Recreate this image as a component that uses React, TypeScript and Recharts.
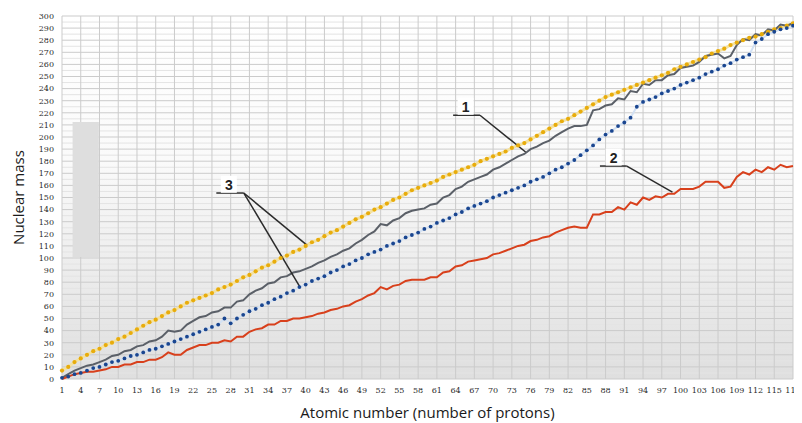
import React from 'react';
import {
  LineChart,
  Line,
  XAxis,
  YAxis,
  CartesianGrid,
  ReferenceArea,
  ReferenceLine,
  ReferenceDot,
} from 'recharts';

// 1 - atomic mass (gray line), Z = 1..118
const atomicMass = [
  1, 4, 7, 9, 11, 12, 14, 16, 19, 20,
  23, 24, 27, 28, 31, 32, 35, 40, 39, 40,
  45, 48, 51, 52, 55, 56, 59, 59, 64, 65,
  70, 73, 75, 79, 80, 84, 85, 88, 89, 91,
  93, 96, 98, 101, 103, 106, 108, 112, 115, 119,
  122, 128, 127, 131, 133, 137, 139, 140, 141, 144,
  145, 150, 152, 157, 159, 163, 165, 167, 169, 173,
  175, 178, 181, 184, 186, 190, 192, 195, 197, 201,
  204, 207, 209, 209, 210, 222, 223, 226, 227, 232,
  231, 238, 237, 244, 243, 247, 247, 251, 252, 257,
  258, 259, 262, 267, 268, 269, 265, 267, 276, 281,
  280, 285, 284, 289, 288, 293, 292, 294,
];

// 2 - number of neutrons (red line)
const neutrons = [
  0, 2, 4, 5, 6, 6, 7, 8, 10, 10,
  12, 12, 14, 14, 16, 16, 18, 22, 20, 20,
  24, 26, 28, 28, 30, 30, 32, 31, 35, 35,
  39, 41, 42, 45, 45, 48, 48, 50, 50, 51,
  52, 54, 55, 57, 58, 60, 61, 64, 66, 69,
  71, 76, 74, 77, 78, 81, 82, 82, 82, 84,
  84, 88, 89, 93, 94, 97, 98, 99, 100, 103,
  104, 106, 108, 110, 111, 114, 115, 117, 118, 121,
  123, 125, 126, 125, 125, 136, 136, 138, 138, 142,
  140, 146, 144, 150, 148, 151, 150, 153, 153, 157,
  157, 157, 159, 163, 163, 163, 158, 159, 167, 171,
  169, 173, 171, 175, 173, 177, 175, 176,
];

// 3 - upper estimate (yellow dots)
const upperBound = [
  7, 10, 14, 17, 20, 23, 25, 28, 30, 33,
  35, 38, 41, 44, 47, 49, 52, 55, 57, 60,
  63, 65, 67, 69, 71, 74, 76, 78, 81, 84,
  86, 89, 92, 94, 97, 100, 102, 105, 107, 110,
  113, 115, 118, 121, 123, 126, 129, 132, 134, 137,
  140, 142, 145, 148, 150, 153, 156, 158, 160, 162,
  164, 167, 169, 171, 173, 175, 177, 180, 182, 184,
  186, 188, 191, 193, 195, 198, 201, 204, 207, 210,
  213, 215, 218, 221, 224, 227, 230, 233, 235, 237,
  239, 241, 243, 245, 247, 249, 251, 253, 256, 258,
  260, 262, 264, 266, 269, 271, 273, 276, 278, 280,
  282, 283, 285, 287, 289, 290, 292, 294,
];

// 3 - lower estimate (blue dots)
const lowerBound = [
  1, 2, 4, 5, 7, 9, 10, 12, 14, 15,
  17, 19, 20, 22, 24, 25, 27, 29, 31, 33,
  35, 37, 39, 41, 43, 45, 50, 46, 50, 53,
  56, 58, 61, 63, 66, 68, 71, 73, 76, 78,
  81, 83, 85, 88, 90, 93, 95, 98, 100, 103,
  105, 107, 110, 112, 114, 117, 119, 121, 124, 126,
  129, 131, 133, 136, 138, 141, 143, 145, 147, 150,
  152, 154, 156, 158, 160, 163, 165, 167, 170, 173,
  175, 178, 181, 185, 189, 193, 198, 202, 205, 209,
  212, 216, 225, 229, 231, 233, 236, 238, 240, 243,
  245, 247, 249, 252, 254, 256, 259, 261, 264, 266,
  268, 278, 281, 285, 287, 289, 290, 292,
];

const xTicks = [
  1, 4, 7, 10, 13, 16, 19, 22, 25, 28, 31, 34, 37, 40, 43, 46, 49, 52, 55, 58,
  61, 64, 67, 70, 73, 76, 79, 82, 85, 88, 91, 94, 97, 100, 103, 106, 109, 112, 115, 118,
];
const yTicks = [
  0, 10, 20, 30, 40, 50, 60, 70, 80, 90, 100, 110, 120, 130, 140, 150, 160, 170, 180, 190,
  200, 210, 220, 230, 240, 250, 260, 270, 280, 290, 300,
];
const yMinor = [
  5, 15, 25, 35, 45, 55, 65, 75, 85, 95, 105, 115, 125, 135, 145, 155, 165, 175, 185, 195,
  205, 215, 225, 235, 245, 255, 265, 275, 285, 295,
];

const data = atomicMass.map((m, i) => ({
  z: i + 1,
  mass: m,
  neutrons: neutrons[i],
  upper: upperBound[i],
  lower: lowerBound[i],
}));

const tag = (text: string) => (p: any) => (
  <g>
    <rect x={p.cx - 8} y={p.cy - 9} width={16} height={17} fill="#ffffff" />
    <text
      x={p.cx}
      y={p.cy}
      textAnchor="middle"
      dominantBaseline="central"
      fontSize={14}
      fontWeight="bold"
      fontFamily="Liberation Sans, Arial, sans-serif"
      fill="#222"
    >
      {text}
    </text>
  </g>
);

const leader = { stroke: '#2b2b2b', strokeWidth: 1.5, ifOverflow: 'visible' as const };
const tickStyle = { fontSize: 8, fill: '#2a2a2a', fontFamily: 'DejaVu Serif' };

export default function App() {
  return (
    <div style={{ width: 794, height: 415, background: '#fff' }}>
      <LineChart width={794} height={415} data={data} margin={{ top: 8, right: 9, left: 0, bottom: 0 }}>
        <defs>
          <linearGradient id="plotBg" x1="0" y1="0" x2="0" y2="1">
            <stop offset="0%" stopColor="#ffffff" />
            <stop offset="40%" stopColor="#fafafa" />
            <stop offset="100%" stopColor="#dfdfdf" />
          </linearGradient>
        </defs>
        <CartesianGrid
          fill="url(#plotBg)"
          stroke="#e4e4e4"
          vertical={false}
          horizontalValues={yMinor}
        />
        <CartesianGrid stroke="#cbcbcb" horizontalValues={yTicks} verticalValues={xTicks} />
        <XAxis
          type="number"
          dataKey="z"
          domain={[1, 118]}
          ticks={xTicks}
          interval={0}
          axisLine={false}
          tickLine={false}
          height={44}
          tick={tickStyle}
          label={(p: any) => (
            <text
              x={p.viewBox.x + p.viewBox.width / 2}
              y={p.viewBox.y + 33}
              textAnchor="middle"
              dominantBaseline="central"
              fontSize={15}
              fontFamily="Open Sans, sans-serif"
              fill="#1a1a1a"
            >
              Atomic number (number of protons)
            </text>
          )}
        />
        <YAxis
          type="number"
          domain={[0, 300]}
          ticks={yTicks}
          interval={0}
          axisLine={false}
          tickLine={false}
          width={54}
          tick={tickStyle}
          label={(p: any) => (
            <text
              transform={`translate(${p.viewBox.x + 10},${p.viewBox.y + p.viewBox.height / 2}) rotate(-90)`}
              textAnchor="middle"
              dominantBaseline="central"
              fontSize={15}
              fontFamily="Open Sans, sans-serif"
              fill="#1a1a1a"
            >
              Nuclear mass
            </text>
          )}
        />
        <ReferenceArea x1={2.7} x2={6.9} y1={100.8} y2={212.4} fill="#dedede" fillOpacity={1} stroke="none" />

        <Line
          dataKey="upper"
          stroke="#f4e2a0"
          strokeWidth={3}
          dot={{ r: 2.1, fill: '#e8ac0c', stroke: 'none' }}
          isAnimationActive={false}
        />
        <Line
          dataKey="lower"
          stroke="#d3e1f3"
          strokeWidth={2}
          dot={{ r: 1.9, fill: '#1a4690', stroke: 'none' }}
          isAnimationActive={false}
        />
        <Line dataKey="mass" stroke="#5b6068" strokeWidth={2} dot={false} isAnimationActive={false} />
        <Line dataKey="neutrons" stroke="#d8401c" strokeWidth={2} dot={false} isAnimationActive={false} />

        {/* label 1 */}
        <ReferenceLine segment={[{ x: 63.6, y: 218 }, { x: 67.9, y: 218 }]} {...leader} />
        <ReferenceLine segment={[{ x: 67.9, y: 218 }, { x: 75.2, y: 187.6 }]} {...leader} />
        <ReferenceDot x={65.6} y={225} r={0} shape={tag('1')} ifOverflow="visible" />

        {/* label 2 */}
        <ReferenceLine segment={[{ x: 87.1, y: 176 }, { x: 91.4, y: 176 }]} {...leader} />
        <ReferenceLine segment={[{ x: 91.4, y: 176 }, { x: 98.7, y: 154.5 }]} {...leader} />
        <ReferenceDot x={89.3} y={183} r={0} shape={tag('2')} ifOverflow="visible" />

        {/* label 3 */}
        <ReferenceLine segment={[{ x: 25.7, y: 153.7 }, { x: 30.1, y: 153.7 }]} {...leader} />
        <ReferenceLine segment={[{ x: 30.1, y: 153.7 }, { x: 40.2, y: 110.7 }]} {...leader} />
        <ReferenceLine segment={[{ x: 30.1, y: 153.7 }, { x: 39.1, y: 76 }]} {...leader} />
        <ReferenceDot x={27.7} y={160.5} r={0} shape={tag('3')} ifOverflow="visible" />
      </LineChart>
    </div>
  );
}
